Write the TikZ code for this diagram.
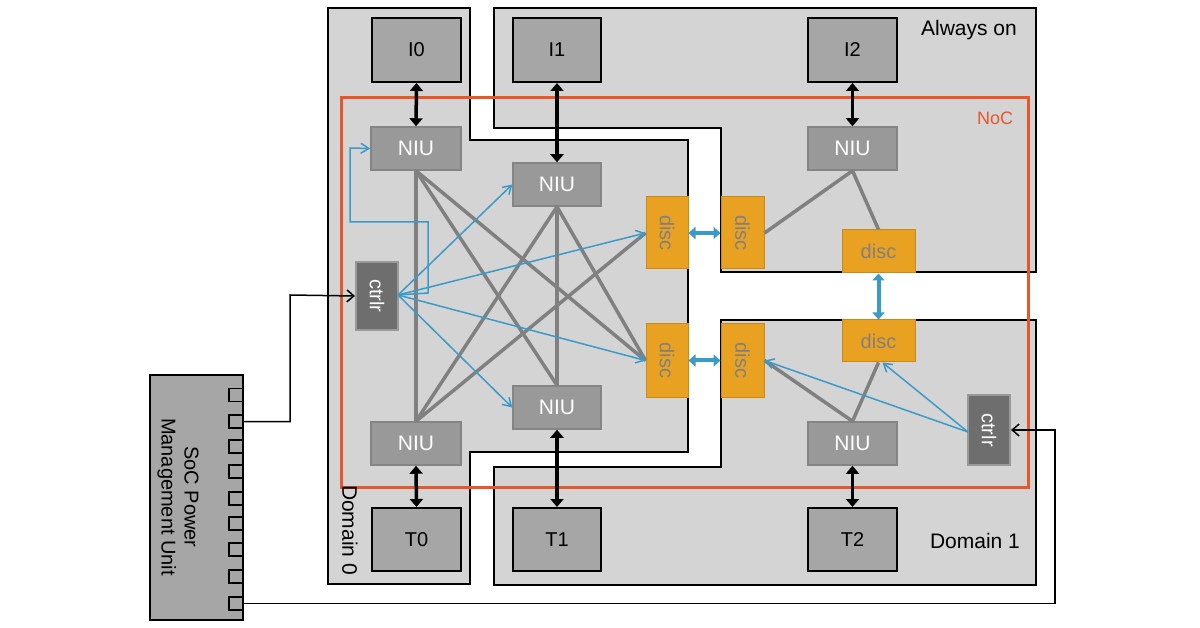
\documentclass[tikz,border=0pt]{standalone}
\usepackage{fontspec}
\setmainfont{Liberation Sans}
\usetikzlibrary{arrows.meta}
\definecolor{reg}{HTML}{D4D4D4}
\definecolor{ipb}{HTML}{A6A6A6}
\definecolor{niu}{HTML}{999999}
\definecolor{niub}{HTML}{858585}
\definecolor{disc}{HTML}{E9A122}
\definecolor{discb}{HTML}{C98A1A}
\definecolor{ctl}{HTML}{6E6E6E}
\definecolor{noc}{HTML}{E8572A}
\definecolor{blu}{HTML}{3A9AC8}
\definecolor{lnk}{HTML}{808080}
\begin{document}
\begin{tikzpicture}[x=1pt,y=-1pt,
 region/.style={fill=reg,draw=black,line width=2},
 ip/.style={fill=ipb,draw=black,line width=2,font=\fontsize{20}{22}\selectfont},
 niu/.style={fill=niu,draw=niub,line width=1.5,text=white,font=\fontsize{21}{22}\selectfont},
 disc/.style={fill=disc,draw=discb,line width=1,text=lnk,inner sep=0,font=\fontsize{20}{22}\selectfont},
 ctl/.style={fill=ctl,draw=niu,line width=2,text=white,inner sep=0,font=\fontsize{20}{22}\selectfont},
 lk/.style={draw=lnk,line width=3.5},
 ba/.style={draw=blu,line width=1.5,-{Straight Barb[length=8,width=10]}},
 bd/.style={draw=blu,line width=4,{Triangle[length=7,width=12]}-{Triangle[length=7,width=12]}},
 kd/.style={draw=black,line width=3.5,{Triangle[length=8,width=13]}-{Triangle[length=8,width=13]}},
 ka/.style={draw=black,line width=1.5,-{Straight Barb[length=7,width=12]}},
 lbl/.style={font=\fontsize{21}{24}\selectfont}]
\useasboundingbox (0,0) rectangle (1200,628);
% regions
\draw[region] (328,8)--(470,8)--(470,140)--(688,140)--(688,452)--(470,452)--(470,584)--(328,584)--cycle;
\draw[region] (494,8)--(1036,8)--(1036,272)--(721,272)--(721,128)--(494,128)--cycle;
\draw[region] (721,320)--(1036,320)--(1036,585)--(494,585)--(494,467)--(721,467)--cycle;
\draw[noc,line width=3] (341,98) rectangle (1028,487);
% IP boxes
\node[ip,minimum width=89,minimum height=64] (I0) at (416.5,50) {I0};
\node[ip,minimum width=88,minimum height=64] (I1) at (557,50) {I1};
\node[ip,minimum width=89,minimum height=64] (I2) at (852.5,50) {I2};
\node[ip,minimum width=89,minimum height=63] (T0) at (416.5,539.5) {T0};
\node[ip,minimum width=88,minimum height=63] (T1) at (557,539.5) {T1};
\node[ip,minimum width=89,minimum height=63] (T2) at (852.5,539.5) {T2};
% NIU
\node[niu,minimum width=90,minimum height=43] (N0t) at (416,148.5) {NIU};
\node[niu,minimum width=88,minimum height=43] (N1t) at (557,184.5) {NIU};
\node[niu,minimum width=89,minimum height=43] (N2t) at (852.5,148.5) {NIU};
\node[niu,minimum width=90,minimum height=43] (N0b) at (416,443.5) {NIU};
\node[niu,minimum width=88,minimum height=43] (N1b) at (557,407.5) {NIU};
\node[niu,minimum width=89,minimum height=43] (N2b) at (852.5,443.5) {NIU};
% disc
\node[disc,minimum width=42,minimum height=72] (dA) at (667,233) {\rotatebox{-90}{disc}};
\node[disc,minimum width=43,minimum height=72] (dB) at (742.5,233) {\rotatebox{-90}{disc}};
\node[disc,minimum width=73,minimum height=43] (dC) at (878.5,251.5) {disc};
\node[disc,minimum width=73,minimum height=42] (dD) at (878.5,341) {disc};
\node[disc,minimum width=42,minimum height=73] (dE) at (667,360.5) {\rotatebox{-90}{disc}};
\node[disc,minimum width=43,minimum height=73] (dF) at (742.5,360.5) {\rotatebox{-90}{disc}};
% ctrl
\node[ctl,minimum width=42,minimum height=68] (cL) at (377,296) {\rotatebox{-90}{ctrlr}};
\node[ctl,minimum width=42,minimum height=70] (cR) at (989,430) {\rotatebox{-90}{ctrlr}};
% PMU
\node[fill=ipb,draw=black,line width=1.5,minimum width=93,minimum height=245,inner sep=0] (pmu) at (196.5,497.5) {};
\node[font=\fontsize{20}{23}\selectfont,rotate=-90,align=center] (pmut) at (178,497) {SoC Power\\Management Unit};
\foreach \i/\y in {1/395,2/421.5,3/446.5,4/471.5,5/498.5,6/523.5,7/549.5,8/576.5,9/603.5}
  \node[fill=ipb,draw=black,line width=1.5,minimum width=14,minimum height=13,inner sep=0] (p\i) at (236,\y) {};
% gray links
\draw[lk] (N0t.south) -- (N0b.north);
\draw[lk] (N1t.south) -- (N1b.north);
\draw[lk] (N0t.south) -- (N1b.north);
\draw[lk] (N0t.south) -- (dE.west);
\draw[lk] (N1t.south) -- (dE.west);
\draw[lk] (N0b.north) -- (dA.west);
\draw[lk] (N0b.north) -- (N1t.south);
\draw[lk] (dB.east) -- (N2t.south);
\draw[lk] (N2t.south) -- (dC.north);
\draw[lk] (N2b.north) -- (dF.east);
\draw[lk] (N2b.north) -- (dD.south);
% blue control arrows
\coordinate (cs) at (398,295);
\draw[ba] (cs) -- (N1t.west);
\draw[ba] (cs) -- (dA.west);
\draw[ba] (cs) -- (dE.west);
\draw[ba] (cs) -- (N1b.west);
\draw[ba] (cs) -- (428,293) -- (428,222) -- (350,222) -- (350,148) -- (N0t.west);
\coordinate (cr) at (968,432);
\draw[ba] (cr) -- (dF.east);
\draw[ba] (cr) -- ([xshift=4pt]dD.south);
% blue doubles
\draw[bd] (dA.east) -- (dB.west);
\draw[bd] (dE.east) -- (dF.west);
\draw[bd] (dC.south) -- (dD.north);
% black doubles
\draw[kd] (I0.south) -- (N0t.north);
\draw[kd] (I1.south) -- (N1t.north);
\draw[kd] (I2.south) -- (N2t.north);
\draw[kd] (N0b.south) -- (T0.north);
\draw[kd] (N1b.south) -- (T1.north);
\draw[kd] (N2b.south) -- (T2.north);
% PMU wires
\draw[ka] (p2.east) -- (290,421.5) -- (290,295) -- (cL.west);
\draw[ka] (p9.east) -- (1055,603.5) -- (1055,430) -- (cR.east);
% labels
\node[lbl] (lAO) at (969,30) {Always on};
\node[lbl,text=noc,font=\fontsize{18}{20}\selectfont] (lNoC) at (995,118) {NoC};
\node[lbl] (lD1) at (975,541) {Domain 1};
\node[lbl,rotate=-90] (lD0) at (350,530) {Domain 0};
\end{tikzpicture}
\end{document}
